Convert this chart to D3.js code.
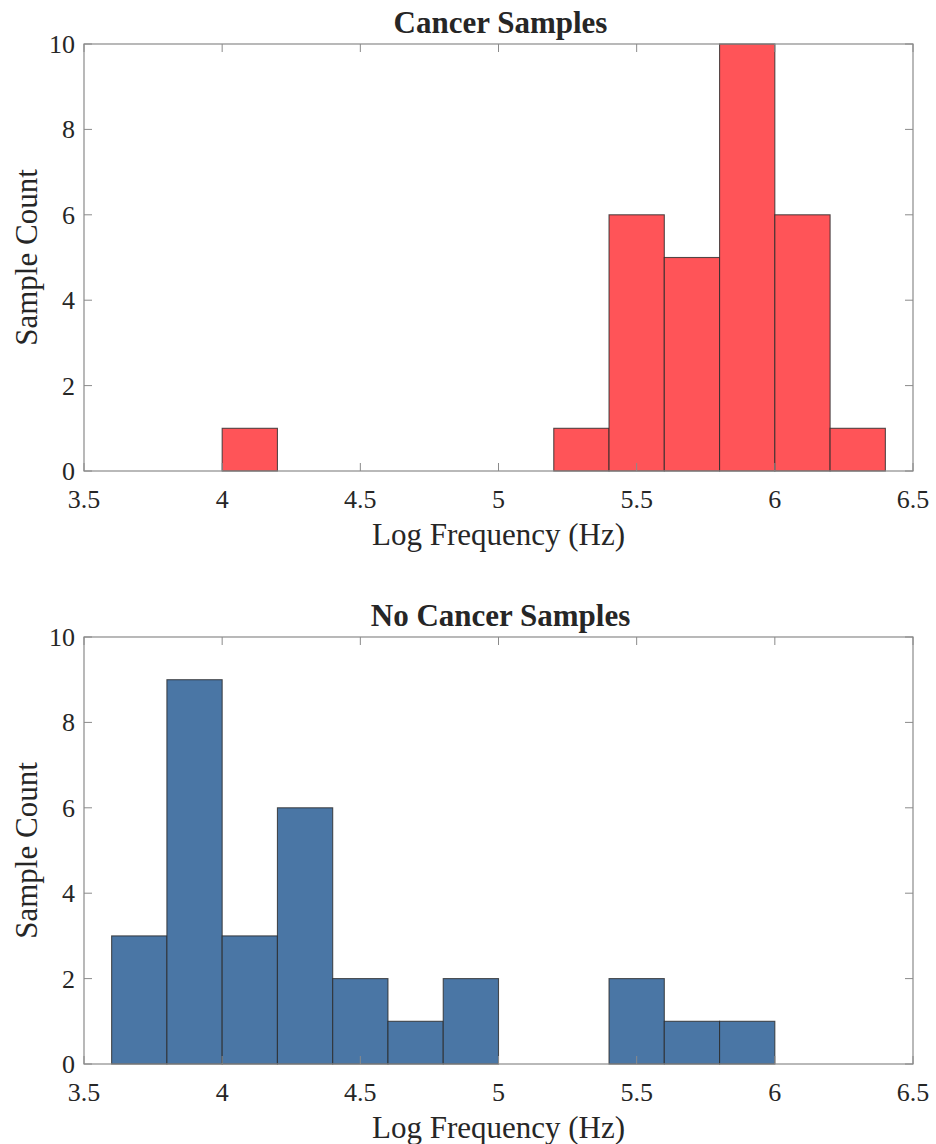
<!DOCTYPE html>
<html>
<head>
<meta charset="utf-8">
<script src="https://cdn.jsdelivr.net/npm/d3@7"></script>
<style>
  html, body { margin: 0; padding: 0; background: #fff; }
  svg { display: block; }
  text { font-family: "Liberation Serif", "DejaVu Serif", serif; fill: #262626; }
</style>
</head>
<body>
<svg id="chart" width="936" height="1144"></svg>
<script>
// bin edges shared by both histograms
const binEdges = [3.6, 3.8, 4.0, 4.2, 4.4, 4.6, 4.8, 5.0, 5.2, 5.4, 5.6, 5.8, 6.0, 6.2, 6.4]
const cancerCounts = [0, 0, 1, 0, 0, 0, 0, 0, 1, 6, 5, 10, 6, 1]
const noCancerCounts = [3, 9, 3, 6, 2, 1, 2, 0, 0, 2, 1, 1, 0, 0]
const xTicks = [3.5, 4, 4.5, 5, 5.5, 6, 6.5]
const yTicks = [0, 2, 4, 6, 8, 10]

const panels = [
  {title: "Cancer Samples", counts: cancerCounts, color: "#ff5458", top: 44, firstBin: 2, lastBin: 14},
  {title: "No Cancer Samples", counts: noCancerCounts, color: "#4a76a5", top: 637, firstBin: 0, lastBin: 12},
]

const svg = d3.select("#chart")
const left = 84, right = 913, plotH = 427
const axisColor = "#8a8a8a"

for (const p of panels) {
  const bins = p.counts
    .map((c, i) => ({x0: binEdges[i], x1: binEdges[i + 1], n: c}))
    .filter((d, i) => i >= p.firstBin && i < p.lastBin)

  const x = d3.scaleLinear().domain([3.5, 6.5]).range([left, right])
  const y = d3.scaleLinear().domain([0, 10]).range([p.top + plotH, p.top])
  const g = svg.append("g")

  g.selectAll("rect.bar")
    .data(bins)
    .join("rect")
    .attr("class", "bar")
    .attr("x", (d) => x(d.x0))
    .attr("y", (d) => y(d.n))
    .attr("width", (d) => x(d.x1) - x(d.x0))
    .attr("height", (d) => y(0) - y(d.n))
    .attr("fill", p.color)
    .attr("stroke", "#2b2b2b")
    .attr("stroke-opacity", 0.8)
    .attr("stroke-width", 1.1)

  // box
  g.append("rect")
    .attr("x", left).attr("y", p.top)
    .attr("width", right - left).attr("height", plotH)
    .attr("fill", "none").attr("stroke", axisColor).attr("stroke-width", 1.2)

  const tl = 8
  const ax = g.append("g")
  xTicks.forEach((t) => {
    ax.append("line").attr("x1", x(t)).attr("x2", x(t)).attr("y1", y(0)).attr("y2", y(0) - tl)
      .attr("stroke", axisColor)
    ax.append("line").attr("x1", x(t)).attr("x2", x(t)).attr("y1", y(10)).attr("y2", y(10) + tl)
      .attr("stroke", axisColor)
    ax.append("text").attr("x", x(t)).attr("y", y(0) + 37)
      .attr("text-anchor", "middle").attr("font-size", 26).text(t)
  })
  yTicks.forEach((t) => {
    ax.append("line").attr("x1", left).attr("x2", left + tl).attr("y1", y(t)).attr("y2", y(t))
      .attr("stroke", axisColor)
    ax.append("line").attr("x1", right).attr("x2", right - tl).attr("y1", y(t)).attr("y2", y(t))
      .attr("stroke", axisColor)
    ax.append("text").attr("x", 75).attr("y", y(t) + 9)
      .attr("text-anchor", "end").attr("font-size", 26).text(t)
  })

  g.append("text")
    .attr("x", (left + right) / 2 + 2).attr("y", p.top - 11)
    .attr("text-anchor", "middle").attr("font-size", 31).attr("font-weight", "bold")
    .attr("fill", "#000")
    .text(p.title)

  g.append("text")
    .attr("x", (left + right) / 2).attr("y", p.top + plotH + 74)
    .attr("text-anchor", "middle").attr("font-size", 31)
    .text("Log Frequency (Hz)")

  g.append("text")
    .attr("transform", `translate(37,${p.top + plotH / 2}) rotate(-90)`)
    .attr("text-anchor", "middle").attr("font-size", 31)
    .text("Sample Count")
}
</script>
</body>
</html>
